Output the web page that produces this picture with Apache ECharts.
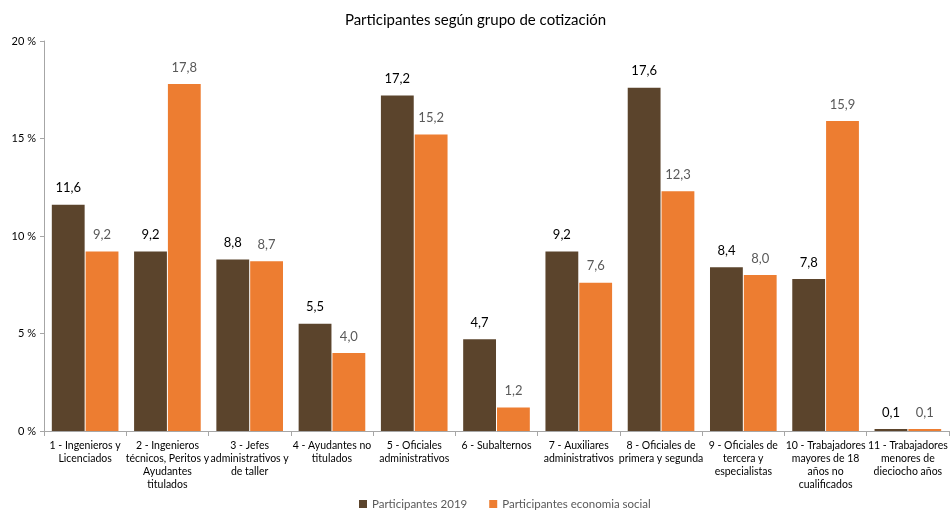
<!DOCTYPE html>
<html><head><meta charset="utf-8">
<script src="https://cdn.jsdelivr.net/npm/echarts@6/dist/echarts.min.js"></script>
<style>html,body{margin:0;padding:0;background:#fff}#c{width:951px;height:516px}</style>
</head><body><div id="c"></div>
<script>
const categories = [
  "1 - Ingenieros y\nLicenciados",
  "2 - Ingenieros\ntécnicos, Peritos y\nAyudantes\ntitulados",
  "3 - Jefes\nadministrativos y\nde taller",
  "4 - Ayudantes no\ntitulados",
  "5 - Oficiales\nadministrativos",
  "6 - Subalternos",
  "7 - Auxiliares\nadministrativos",
  "8 - Oficiales de\nprimera y segunda",
  "9 - Oficiales de\ntercera y\nespecialistas",
  "10 - Trabajadores\nmayores de 18\naños no\ncualificados",
  "11 - Trabajadores\nmenores de\ndieciocho años"
];
const participantes2019 = [11.6, 9.2, 8.8, 5.5, 17.2, 4.7, 9.2, 17.6, 8.4, 7.8, 0.1];
const participantesES = [9.2, 17.8, 8.7, 4.0, 15.2, 1.2, 7.6, 12.3, 8.0, 15.9, 0.1];
const yTicks = [0, 5, 10, 15, 20];

const FONT = 'Lato, "Open Sans", sans-serif';
const fmt = v => v.toFixed(1).replace('.', ',');
const chart = echarts.init(document.getElementById('c'));
chart.setOption({
  animation: false,
  textStyle: {fontFamily: FONT},
  title: {text: 'Participantes según grupo de cotización', left: 'center', top: 8,
    textStyle: {fontFamily: FONT, fontSize: 15, fontWeight: 'normal', color: '#000'}},
  legend: {bottom: 1, left: 354, itemWidth: 8, itemHeight: 8, itemGap: 22,
    icon: 'rect', textStyle: {fontFamily: FONT, fontSize: 11.5, color: '#595959'},
    data: ['Participantes 2019', 'Participantes economia social']},
  grid: {left: 44, right: 2, top: 41, bottom: 85},
  xAxis: {type: 'category', data: categories,
    axisLine: {lineStyle: {color: '#a6a6a6'}},
    axisTick: {show: true, alignWithLabel: false, length: 5, lineStyle: {color: '#a6a6a6'}},
    axisLabel: {interval: 0, fontFamily: FONT, fontSize: 10.5, color: '#000', lineHeight: 13, margin: 8}},
  yAxis: {type: 'value', min: yTicks[0], max: yTicks[yTicks.length-1], interval: 5,
    axisLine: {show: true, lineStyle: {color: '#a6a6a6'}},
    axisTick: {show: true, length: 4, lineStyle: {color: '#a6a6a6'}},
    splitLine: {show: false},
    axisLabel: {fontFamily: FONT, fontSize: 11, color: '#000', formatter: v => v + ' %', margin: 8}},
  series: [
    {name: 'Participantes 2019', type: 'bar', data: participantes2019, barGap: '3%', barCategoryGap: '19%',
      itemStyle: {color: '#5B442C'},
      label: {show: true, position: 'top', distance: 10, formatter: p => fmt(p.value),
        fontFamily: FONT, fontSize: 13, color: '#000'}},
    {name: 'Participantes economia social', type: 'bar', data: participantesES,
      itemStyle: {color: '#ED7D31'},
      label: {show: true, position: 'top', distance: 10, formatter: p => fmt(p.value),
        fontFamily: FONT, fontSize: 13, color: '#595959'}}
  ]
});
</script></body></html>
